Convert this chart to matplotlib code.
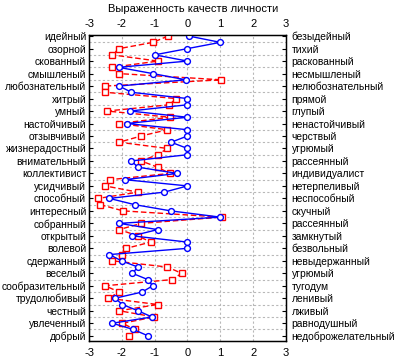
import numpy as np
import matplotlib
matplotlib.use('Agg')
import matplotlib.pyplot as plt

#labels (left / right poles)
left_labels = ['идейный', 'озорной', 'скованный', 'смышленый', 'любознательный',
               'хитрый', 'умный', 'настойчивый', 'отзывчивый', 'жизнерадостный',
               'внимательный', 'коллективист', 'усидчивый', 'способный', 'интересный',
               'собранный', 'открытый', 'волевой', 'сдержанный', 'веселый',
               'сообразительный', 'трудолюбивый', 'честный', 'увлеченный', 'добрый']
right_labels = ['безыдейный', 'тихий', 'раскованный', 'несмышленый', 'нелюбознательный',
                'прямой', 'глупый', 'ненастойчивый', 'черствый', 'угрюмый',
                'рассеянный', 'индивидуалист', 'нетерпеливый', 'неспособный', 'скучный',
                'рассеянный', 'замкнутый', 'безвольный', 'невыдержанный', 'угрюмый',
                'тугодум', 'ленивый', 'лживый', 'равнодушный', 'недоброжелательный']

#profile values (two rows per label)
blue = [0.05, 1.0, 0.0, -1.0, 0.0, -2.1, -1.06, -0.05, -2.08, -1.71,
        0.0, 0.0, -1.75, 0.0, -1.85, 0.0, 0.0, -0.5, 0.0, 0.0,
        -1.71, -1.51, -0.31, -1.91, 0.0, -0.71, -2.38, -1.61, -0.51, 1.0,
        -2.08, -0.91, -1.68, 0.0, 0.0, -2.38, -2.01, -1.51, -1.68, -1.21,
        -1.06, -1.38, -2.21, -1.98, -1.51, -1.08, -2.29, -1.65, -1.21]
red = [-0.6, -1.05, -2.08, -2.3, -0.9, -2.3, -2.1, 1.03, -2.5, -2.5,
       -0.35, -0.55, -2.45, -0.53, -2.08, -0.61, -1.41, -2.08, -0.61, -0.91,
       -1.41, -0.91, -0.54, -2.36, -2.51, -1.51, -2.72, -2.66, -1.96, 1.05,
       -1.41, -2.08, -1.51, -1.12, -1.86, -2.0, -2.29, -0.61, -0.18, -0.46,
       -2.51, -2.08, -2.41, -0.91, -2.08, -1.01, -1.98, -1.61, -1.78]

xticks = [-3, -2, -1, 0, 1, 2, 3]

#==============================================================================
#PLOT
#==============================================================================

fs = 7.4
plt.rcParams['font.family'] = ['Liberation Sans', 'DejaVu Sans']

f = plt.figure(figsize=(4.02, 3.6), dpi=100)
ax = f.add_axes([0.2214, 0.0536, 0.490, 0.8478])

rows = np.arange(len(blue))
ax.plot(red, rows, color='#ff0000', lw=1, ls=(0, (4, 2)), marker='s', ms=3.8,
        mfc='white', mec='#ff0000', mew=1, zorder=3)
ax.plot(blue, rows, color='#0000ff', lw=1, marker='o', ms=4.2, mfc='white',
        mec='#0000ff', mew=1, zorder=4)

ax.set_xlim(-3, 3)
ax.set_ylim(48.8, -0.1)
ax.set_xticks(xticks)
ax.set_xticklabels([str(t) for t in xticks], fontsize=fs + 0.6)
ax.tick_params(axis='x', length=0, pad=5, top=True, labeltop=True)

lab_pos = rows[::2]
ax.set_yticks(lab_pos)
ax.set_yticklabels(left_labels, fontsize=fs)
ax.set_yticks(rows, minor=True)
ax.tick_params(axis='y', which='major', direction='in', length=3, pad=2)
ax.tick_params(axis='y', which='minor', length=0)

ax.grid(axis='x', which='major', color='#b8b8b8', ls=(0, (2, 2)), lw=0.8)
ax.grid(axis='y', which='minor', color='#b8b8b8', ls=(0, (2, 2)), lw=0.8)
ax.set_axisbelow(True)
for s in ax.spines.values():
    s.set_linewidth(1)

ax2 = ax.twinx()
ax2.set_ylim(ax.get_ylim())
ax2.set_yticks(lab_pos)
ax2.set_yticklabels(right_labels, fontsize=fs)
ax2.tick_params(axis='y', direction='in', length=3, pad=4)

f.text(0.48, 1 - 9 / 360, 'Выраженность качеств личности', ha='center', va='center',
       fontsize=fs + 0.6)

f.savefig('out.png', dpi=100)
